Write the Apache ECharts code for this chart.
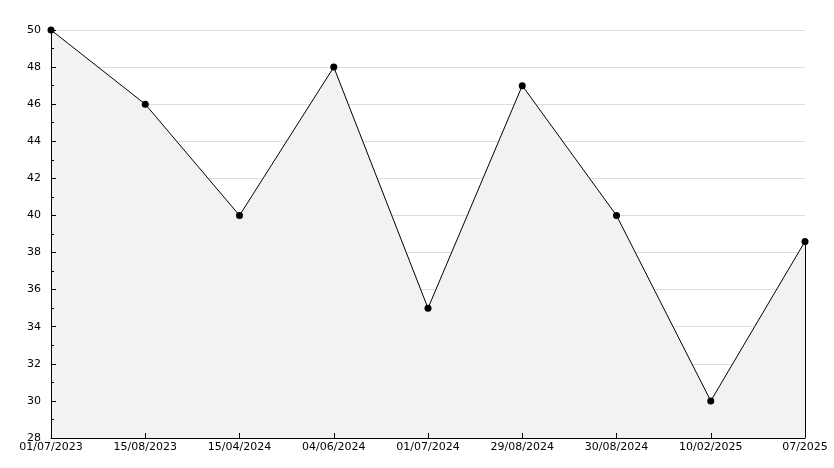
<!DOCTYPE html>
<html><head><meta charset="utf-8">
<script src="https://cdn.jsdelivr.net/npm/echarts@6/dist/echarts.min.js"></script>
<style>html,body{margin:0;padding:0;background:#fff}#c{width:834px;height:468px}</style>
</head><body><div id="c"></div>
<script>
const categories = ['01/07/2023','15/08/2023','15/04/2024','04/06/2024','01/07/2024','29/08/2024','30/08/2024','10/02/2025','07/2025'];
const values = [50, 46, 40, 48, 35, 47, 40, 30, 38.6];
const yMin = 28, yMax = 50, yStep = 2;

const chart = echarts.init(document.getElementById('c'));
const font = { fontFamily: 'DejaVu Sans', fontSize: 11, color: '#000' };
const lastIdx = categories.length - 1;
chart.setOption({
  animation: false,
  grid: { left: 51, right: 29, top: 30, bottom: 30, containLabel: false },
  xAxis: [{
    type: 'category', data: categories, boundaryGap: false, z: 10,
    axisLine: { lineStyle: { color: '#000', width: 1 } },
    axisTick: { inside: true, length: 5, lineStyle: { color: '#000' } },
    axisLabel: Object.assign({ margin: 4, interval: 0 }, font),
    splitLine: { show: false }
  }],
  yAxis: [{
    type: 'value', min: yMin, max: yMax, interval: yStep, z: 0,
    axisLine: { show: false }, axisTick: { show: false }, axisLabel: { show: false },
    splitLine: { show: true, lineStyle: { color: '#dddddd', width: 1 } }
  }, {
    type: 'value', position: 'left', min: yMin, max: yMax, interval: yStep, z: 10,
    axisLine: { show: true, lineStyle: { color: '#000', width: 1 } },
    axisTick: { show: true, inside: true, length: 5, lineStyle: { color: '#000' } },
    minorTick: { show: true, splitNumber: 2, length: 3, lineStyle: { color: '#000' } },
    axisLabel: Object.assign({ margin: 10 }, font),
    splitLine: { show: false }
  }],
  series: [{
    type: 'line', data: values, z: 2, yAxisIndex: 0,
    lineStyle: { color: '#000', width: 1 },
    itemStyle: { color: '#000' },
    symbol: 'circle', symbolSize: 7,
    areaStyle: { color: '#f2f2f2', opacity: 1 },
    markLine: {
      silent: true, symbol: ['none', 'none'], label: { show: false },
      lineStyle: { color: '#000', width: 1, type: 'solid' },
      data: [[{ coord: [lastIdx, values[lastIdx]] }, { coord: [lastIdx, yMin] }]]
    }
  }]
});
</script></body></html>
